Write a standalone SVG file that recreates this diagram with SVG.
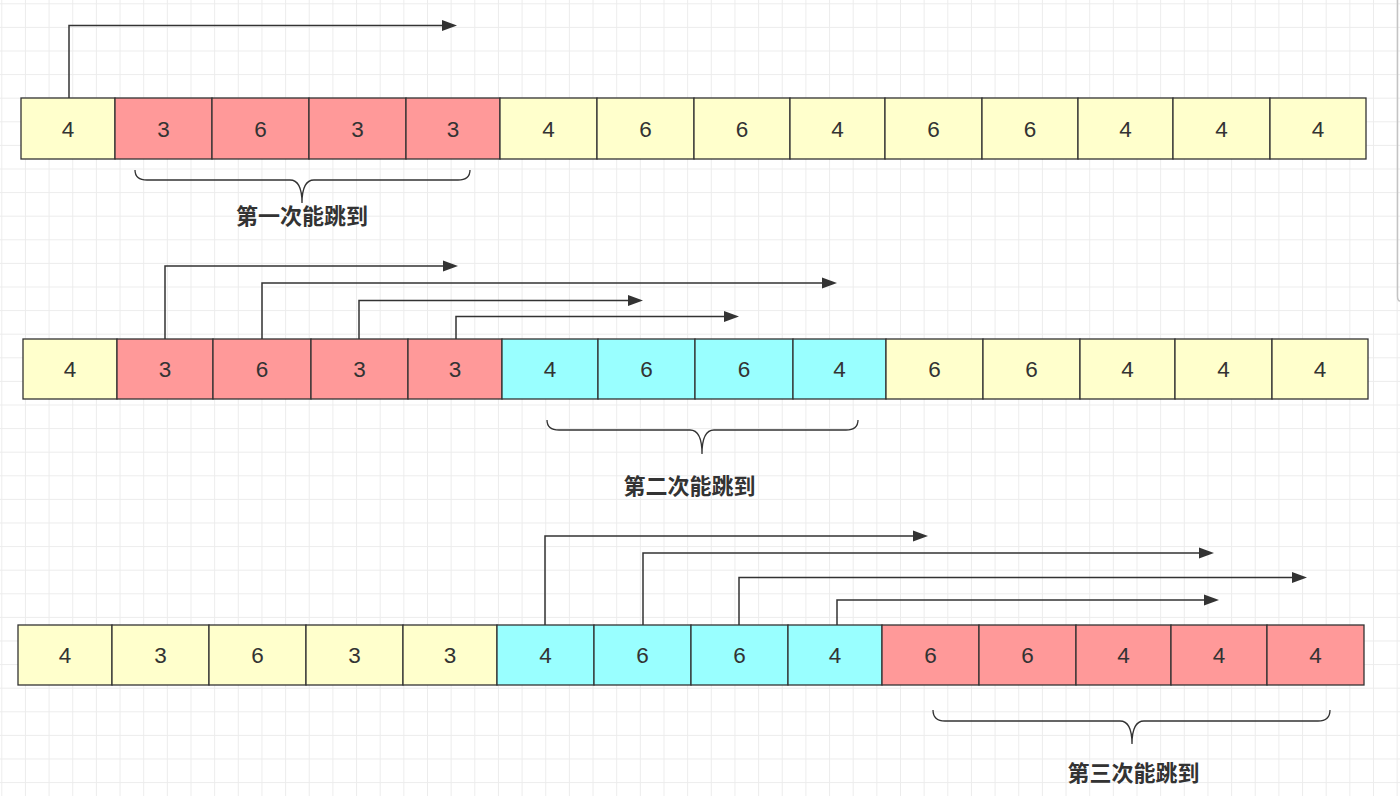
<svg xmlns="http://www.w3.org/2000/svg" width="1400" height="796" viewBox="0 0 1400 796">
<style>
.cell{stroke:#333;stroke-width:1.3}
.y{fill:#FFFFCC}.r{fill:#FF9999}.c{fill:#99FFFF}
.num{font-family:"Liberation Sans",Arial,sans-serif;font-size:22.5px;fill:#333;text-anchor:middle}
.lbl{font-family:"Liberation Sans","Noto Sans CJK SC",sans-serif;font-size:22px;font-weight:bold;fill:#333;text-anchor:middle}
.con{fill:none;stroke:#333;stroke-width:1.5;marker-end:url(#ah)}
.brace{fill:none;stroke:#333;stroke-width:1.3}
</style>
<defs>
<pattern id="grid" patternUnits="userSpaceOnUse" x="1.3" y="3.3" width="23.65" height="23.6">
<rect x="0" y="0" width="1" height="23.6" fill="#ececec"/>
<rect x="0" y="0" width="23.65" height="1" fill="#ececec"/>
</pattern>
<marker id="ah" markerUnits="userSpaceOnUse" markerWidth="16" markerHeight="12" refX="2" refY="6" orient="auto">
<path d="M0,0.5 L15,6 L0,11.5 Z" fill="#333"/>
</marker>
</defs>
<rect width="1400" height="796" fill="#ffffff"/>
<rect width="1400" height="796" fill="url(#grid)"/>
<path d="M1397.5,0 V296 Q1397.5,301 1400,301" fill="none" stroke="#c4c4c4" stroke-width="1.5"/>

<g id="row1">
<g id="r1c1"><rect class="cell y" x="21" y="98" width="94" height="61"/><text class="num" x="68" y="136.5">4</text></g>
<g id="r1c2"><rect class="cell r" x="115" y="98" width="97" height="61"/><text class="num" x="163.5" y="136.5">3</text></g>
<g id="r1c3"><rect class="cell r" x="212" y="98" width="97" height="61"/><text class="num" x="260.5" y="136.5">6</text></g>
<g id="r1c4"><rect class="cell r" x="309" y="98" width="97" height="61"/><text class="num" x="357.5" y="136.5">3</text></g>
<g id="r1c5"><rect class="cell r" x="406" y="98" width="94" height="61"/><text class="num" x="453" y="136.5">3</text></g>
<g id="r1c6"><rect class="cell y" x="500" y="98" width="97" height="61"/><text class="num" x="548.5" y="136.5">4</text></g>
<g id="r1c7"><rect class="cell y" x="597" y="98" width="97" height="61"/><text class="num" x="645.5" y="136.5">6</text></g>
<g id="r1c8"><rect class="cell y" x="694" y="98" width="96" height="61"/><text class="num" x="742" y="136.5">6</text></g>
<g id="r1c9"><rect class="cell y" x="790" y="98" width="95" height="61"/><text class="num" x="837.5" y="136.5">4</text></g>
<g id="r1c10"><rect class="cell y" x="885" y="98" width="97" height="61"/><text class="num" x="933.5" y="136.5">6</text></g>
<g id="r1c11"><rect class="cell y" x="982" y="98" width="96" height="61"/><text class="num" x="1030" y="136.5">6</text></g>
<g id="r1c12"><rect class="cell y" x="1078" y="98" width="95" height="61"/><text class="num" x="1125.5" y="136.5">4</text></g>
<g id="r1c13"><rect class="cell y" x="1173" y="98" width="97" height="61"/><text class="num" x="1221.5" y="136.5">4</text></g>
<g id="r1c14"><rect class="cell y" x="1270" y="98" width="96" height="61"/><text class="num" x="1318" y="136.5">4</text></g>
</g>

<g id="row2">
<g id="r2c1"><rect class="cell y" x="23" y="339" width="94" height="60"/><text class="num" x="70" y="377">4</text></g>
<g id="r2c2"><rect class="cell r" x="117" y="339" width="96" height="60"/><text class="num" x="165" y="377">3</text></g>
<g id="r2c3"><rect class="cell r" x="213" y="339" width="98" height="60"/><text class="num" x="262" y="377">6</text></g>
<g id="r2c4"><rect class="cell r" x="311" y="339" width="97" height="60"/><text class="num" x="359.5" y="377">3</text></g>
<g id="r2c5"><rect class="cell r" x="408" y="339" width="94" height="60"/><text class="num" x="455" y="377">3</text></g>
<g id="r2c6"><rect class="cell c" x="502" y="339" width="96" height="60"/><text class="num" x="550" y="377">4</text></g>
<g id="r2c7"><rect class="cell c" x="598" y="339" width="97" height="60"/><text class="num" x="646.5" y="377">6</text></g>
<g id="r2c8"><rect class="cell c" x="695" y="339" width="98" height="60"/><text class="num" x="744" y="377">6</text></g>
<g id="r2c9"><rect class="cell c" x="793" y="339" width="93" height="60"/><text class="num" x="839.5" y="377">4</text></g>
<g id="r2c10"><rect class="cell y" x="886" y="339" width="97" height="60"/><text class="num" x="934.5" y="377">6</text></g>
<g id="r2c11"><rect class="cell y" x="983" y="339" width="97" height="60"/><text class="num" x="1031.5" y="377">6</text></g>
<g id="r2c12"><rect class="cell y" x="1080" y="339" width="95" height="60"/><text class="num" x="1127.5" y="377">4</text></g>
<g id="r2c13"><rect class="cell y" x="1175" y="339" width="97" height="60"/><text class="num" x="1223.5" y="377">4</text></g>
<g id="r2c14"><rect class="cell y" x="1272" y="339" width="96" height="60"/><text class="num" x="1320" y="377">4</text></g>
</g>

<g id="row3">
<g id="r3c1"><rect class="cell y" x="18" y="625" width="94" height="60"/><text class="num" x="65" y="663">4</text></g>
<g id="r3c2"><rect class="cell y" x="112" y="625" width="97" height="60"/><text class="num" x="160.5" y="663">3</text></g>
<g id="r3c3"><rect class="cell y" x="209" y="625" width="97" height="60"/><text class="num" x="257.5" y="663">6</text></g>
<g id="r3c4"><rect class="cell y" x="306" y="625" width="97" height="60"/><text class="num" x="354.5" y="663">3</text></g>
<g id="r3c5"><rect class="cell y" x="403" y="625" width="94" height="60"/><text class="num" x="450" y="663">3</text></g>
<g id="r3c6"><rect class="cell c" x="497" y="625" width="97" height="60"/><text class="num" x="545.5" y="663">4</text></g>
<g id="r3c7"><rect class="cell c" x="594" y="625" width="97" height="60"/><text class="num" x="642.5" y="663">6</text></g>
<g id="r3c8"><rect class="cell c" x="691" y="625" width="97" height="60"/><text class="num" x="739.5" y="663">6</text></g>
<g id="r3c9"><rect class="cell c" x="788" y="625" width="94" height="60"/><text class="num" x="835" y="663">4</text></g>
<g id="r3c10"><rect class="cell r" x="882" y="625" width="97" height="60"/><text class="num" x="930.5" y="663">6</text></g>
<g id="r3c11"><rect class="cell r" x="979" y="625" width="97" height="60"/><text class="num" x="1027.5" y="663">6</text></g>
<g id="r3c12"><rect class="cell r" x="1076" y="625" width="95" height="60"/><text class="num" x="1123.5" y="663">4</text></g>
<g id="r3c13"><rect class="cell r" x="1171" y="625" width="96" height="60"/><text class="num" x="1219" y="663">4</text></g>
<g id="r3c14"><rect class="cell r" x="1267" y="625" width="97" height="60"/><text class="num" x="1315.5" y="663">4</text></g>
</g>

<g id="connectors">
<path class="con" d="M69,98 V25.5 H444"/>
<path class="con" d="M165,339 V266 H445"/>
<path class="con" d="M262,339 V283 H824"/>
<path class="con" d="M359,339 V300.5 H630"/>
<path class="con" d="M456,339 V316.5 H726"/>
<path class="con" d="M545,625 V536 H915"/>
<path class="con" d="M643,625 V553 H1201"/>
<path class="con" d="M739,625 V577.5 H1294"/>
<path class="con" d="M837,625 V600 H1206"/>
</g>

<g id="brace1"><path class="brace" d="M135,170 Q135,180 147,180 H290 Q302,180 302,203 Q302,180 314,180 H458 Q470,180 470,170"/></g>
<g id="brace2"><path class="brace" d="M547,420 Q547,430 559,430 H690 Q702,430 702,454 Q702,430 714,430 H846 Q858,430 858,420"/></g>
<g id="brace3"><path class="brace" d="M933,710 Q933,721 945,721 H1120 Q1132,721 1132,744 Q1132,721 1144,721 H1318 Q1330,721 1330,710"/></g>

<g id="label1"><text class="lbl" x="302" y="224">第一次能跳到</text></g>
<g id="label2"><text class="lbl" x="689.5" y="494">第二次能跳到</text></g>
<g id="label3"><text class="lbl" x="1133.5" y="781">第三次能跳到</text></g>
</svg>
